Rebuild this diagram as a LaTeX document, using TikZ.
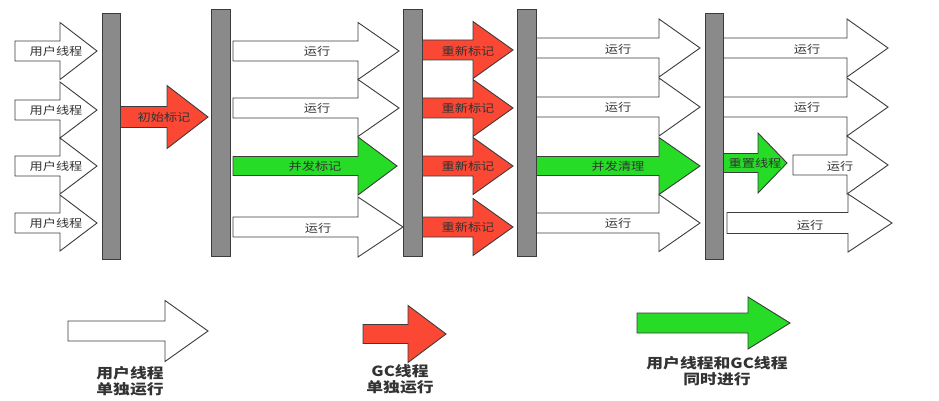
\documentclass[tikz,border=0pt]{standalone}
\usepackage{fontspec}
\newfontfamily\cjk[FakeStretch=1.2]{Noto Sans CJK SC}
\definecolor{redf}{RGB}{250,72,52}
\definecolor{greenf}{RGB}{38,220,38}
\definecolor{barf}{RGB}{138,138,138}
\definecolor{edge}{RGB}{60,60,60}
\newcommand\blkarrow[7]{%
  \draw[#1] (#2,#5-#6) -- (#3,#5-#6) -- (#3,#5-#7) -- (#4,#5) -- (#3,#5+#7) -- (#3,#5+#6) -- (#2,#5+#6) -- cycle;}
\begin{document}
\begin{tikzpicture}[x=1pt,y=-1pt,
  wa/.style={draw=edge,line width=0.9pt,fill=white,line join=miter},
  ra/.style={draw=edge,line width=0.9pt,fill=redf,line join=miter},
  ga/.style={draw=edge,line width=0.9pt,fill=greenf,line join=miter},
  barbox/.style={draw=edge,line width=0.9pt,fill=barf},
  lbl/.style={font=\cjk\fontsize{11}{12}\selectfont,text=black!80,inner sep=0pt},
  leg/.style={font=\cjk\bfseries\fontsize{14}{15.5}\selectfont,text=black!80,align=center,inner sep=0pt}]
\useasboundingbox (0,0) rectangle (939,401);
\fill[white] (0,0) rectangle (939,401);
% column 1: user threads
\blkarrow{wa}{15}{60}{97}{51}{10}{28.5}
\blkarrow{wa}{15}{60}{97}{110}{10}{28}
\blkarrow{wa}{15}{60}{97}{166}{10}{28}
\blkarrow{wa}{15}{60}{97}{223}{10}{28}
\node[lbl] (u1) at (56,51) {用户线程};
\node[lbl] (u2) at (56,110) {用户线程};
\node[lbl] (u3) at (56,166) {用户线程};
\node[lbl] (u4) at (56,223) {用户线程};
% initial mark
\blkarrow{ra}{120}{167}{208}{117}{10.5}{31.5}
\node[lbl] (im) at (164,117) {初始标记};
% column 2
\blkarrow{wa}{233}{358}{399}{51}{10}{28.5}
\blkarrow{wa}{233}{358}{399}{108}{10}{28.5}
\blkarrow{ga}{233}{358}{397}{166}{9.5}{29}
\blkarrow{wa}{233}{358}{403}{227}{10}{30}
\node[lbl] (c2a) at (317,51) {运行};
\node[lbl] (c2b) at (317,108) {运行};
\node[lbl] (c2c) at (315,166) {并发标记};
\node[lbl] (c2d) at (318,228) {运行};
% column 3: remark
\blkarrow{ra}{422}{473}{513}{50}{10}{28.5}
\blkarrow{ra}{422}{473}{513}{108}{10}{28.5}
\blkarrow{ra}{422}{473}{513}{166}{10}{28.5}
\blkarrow{ra}{422}{473}{513}{227}{10}{28.5}
\node[lbl] (c3a) at (468,51) {重新标记};
\node[lbl] (c3b) at (468,108) {重新标记};
\node[lbl] (c3c) at (468,166) {重新标记};
\node[lbl] (c3d) at (468,227) {重新标记};
% column 4
\blkarrow{wa}{536}{659}{700}{48}{10}{29}
\blkarrow{wa}{536}{659}{700}{107}{10}{29}
\blkarrow{ga}{536}{659}{700}{166}{9.5}{28.5}
\blkarrow{wa}{536}{659}{700}{223}{10}{28.5}
\node[lbl] (c4a) at (618,49) {运行};
\node[lbl] (c4b) at (618,107) {运行};
\node[lbl] (c4c) at (618,166) {并发清理};
\node[lbl] (c4d) at (618,223) {运行};
% column 5
\blkarrow{wa}{723}{847}{888}{48}{10}{29}
\blkarrow{wa}{723}{847}{888}{107}{10}{29}
\blkarrow{wa}{793}{847}{888}{165}{10}{29}
\blkarrow{wa}{727}{848}{892}{223}{10.5}{29}
\blkarrow{ga}{723}{758}{787}{163}{9.5}{30}
\node[lbl] (c5a) at (807,49) {运行};
\node[lbl] (c5b) at (807,107) {运行};
\node[lbl] (c5c) at (840,166) {运行};
\node[lbl] (c5d) at (810,225) {运行};
\node[lbl] (c5e) at (755,163) {重置线程};
% bars
\draw[barbox] (102,13) rectangle (120,259);
\draw[barbox] (211,9) rectangle (230,256);
\draw[barbox] (403,9) rectangle (422,256);
\draw[barbox] (517,9) rectangle (536,256);
\draw[barbox] (705,13) rectangle (723,259);
% legend
\blkarrow{wa}{68}{165}{208}{331}{10}{30.5}
\blkarrow{ra}{363}{408}{446}{334}{9.5}{28.5}
\blkarrow{ga}{637}{748}{790}{323}{10}{26}
\node[leg] (l1) at (130,381) {用户线程\\单独运行};
\node[leg] (l2) at (400,379) {GC线程\\单独运行};
\node[leg] (l3) at (717,371) {用户线程和GC线程\\同时进行};
\end{tikzpicture}
\end{document}
